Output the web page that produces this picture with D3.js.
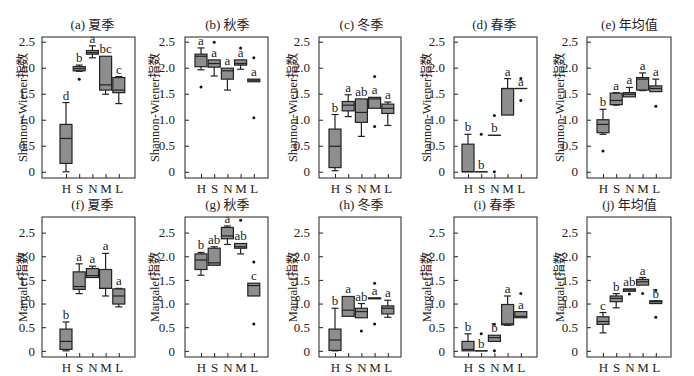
<!DOCTYPE html>
<html>
<head>
<meta charset="UTF-8">
<title></title>
<script src="https://d3js.org/d3.v7.min.js"></script>
<style>
  body{margin:0;background:#fff;}
  svg text{font-family:"Times New Roman","Liberation Serif","DejaVu Serif","Noto Sans CJK SC",serif;fill:#222;}
</style>
</head>
<body>
<div id="chart"></div>
<script>
// categories & tick labels
const categories = ['H','S','N','M','L']
const yTicks = [0, 0.5, 1.0, 1.5, 2.0, 2.5]
const seasons = ['夏季','秋季','冬季','春季','年均值']
const topTags = ['(a)','(b)','(c)','(d)','(e)']
const bottomTags = ['(f)','(g)','(h)','(i)','(j)']

// each box: [whisker low, q1, median, q3, whisker high]
// Shannon-Wiener
const shSummer = [[0,0.16,0.64,0.91,1.33],[1.93,1.94,1.98,2.02,2.05],[2.19,2.26,2.29,2.33,2.42],[1.49,1.57,1.67,2.22,2.22],[1.31,1.52,1.57,1.81,1.83]]
const shSummerOut = [[],[1.78],[],[],[]]
const shSummerSig = ['d','b','a','bc','c']

const shAutumn = [[1.96,2.02,2.22,2.26,2.38],[1.84,2.01,2.08,2.15,2.15],[1.57,1.78,1.94,1.99,1.99],[1.97,2.05,2.08,2.15,2.15],[1.73,1.73,1.76,1.78,1.78]]
const shAutumnOut = [[1.63],[2.49],[],[2.38],[2.19,1.04]]
const shAutumnSig = ['a','a','a','a','a']

const shWinter = [[0.02,0.08,0.49,0.82,1.10],[1.06,1.17,1.28,1.35,1.48],[0.68,0.95,1.14,1.40,1.40],[1.22,1.22,1.40,1.43,1.43],[0.89,1.12,1.22,1.30,1.34]]
const shWinterOut = [[],[],[],[1.83,0.87],[]]
const shWinterSig = ['b','a','ab','a','a']

const shSpring = [[0,0,0,0.53,0.72],[0,0,0,0,0],[0.70,0.70,0.70,0.70,0.70],[1.09,1.09,1.60,1.60,1.79],[1.60,1.60,1.60,1.60,1.60]]
const shSpringOut = [[],[0.72],[1.08,0],[],[1.79,1.37]]
const shSpringSig = ['b','b','b','a','a']

const shYear = [[0.72,0.75,0.91,1.00,1.20],[1.28,1.29,1.37,1.51,1.52],[1.44,1.44,1.49,1.52,1.62],[1.56,1.57,1.78,1.81,1.90],[1.54,1.54,1.60,1.65,1.78]]
const shYearOut = [[0.40],[],[],[],[1.26]]
const shYearSig = ['b','a','a','a','a']

// Margalef
const mgSummer = [[0,0.03,0.20,0.46,0.61],[1.21,1.30,1.36,1.67,1.84],[1.55,1.55,1.59,1.74,1.79],[1.16,1.32,1.32,1.72,2.06],[0.93,0.99,1.16,1.31,1.32]]
const mgSummerOut = [[],[],[],[],[]]
const mgSummerSig = ['b','a','a','a','a']

const mgAutumn = [[1.60,1.72,1.92,2.05,2.08],[1.81,1.81,1.86,2.17,2.20],[2.25,2.37,2.43,2.61,2.64],[2.05,2.17,2.20,2.27,2.27],[1.16,1.16,1.38,1.43,1.43]]
const mgAutumnOut = [[],[],[],[2.76],[1.88,0.57]]
const mgAutumnSig = ['b','ab','a','ab','c']

const mgWinter = [[0,0.01,0.23,0.46,0.90],[0.73,0.73,0.86,1.15,1.15],[0.70,0.70,0.83,0.90,1.00],[1.10,1.10,1.11,1.12,1.12],[0.71,0.78,0.90,0.95,1.07]]
const mgWinterOut = [[],[],[0.42],[1.43,0.57],[]]
const mgWinterSig = ['b','a','ab','a','a']

const mgSpring = [[0,0,0.03,0.20,0.36],[0,0,0,0,0],[0.20,0.20,0.28,0.33,0.33],[0.54,0.55,0.57,0.98,1.16],[0.70,0.70,0.73,0.83,0.83]]
const mgSpringOut = [[],[0.36],[0.56,0],[],[1.21]]
const mgSpringSig = ['b','b','b','a','a']

const mgYear = [[0.38,0.56,0.62,0.72,0.81],[0.91,1.04,1.11,1.16,1.21],[1.26,1.26,1.29,1.31,1.31],[1.39,1.39,1.46,1.51,1.55],[1.00,1.00,1.04,1.06,1.06]]
const mgYearOut = [[],[],[1.20],[1.21],[1.28,0.71]]
const mgYearSig = ['c','b','ab','a','b']

const topRow = [[shSummer,shSummerOut,shSummerSig],[shAutumn,shAutumnOut,shAutumnSig],[shWinter,shWinterOut,shWinterSig],[shSpring,shSpringOut,shSpringSig],[shYear,shYearOut,shYearSig]]
const bottomRow = [[mgSummer,mgSummerOut,mgSummerSig],[mgAutumn,mgAutumnOut,mgAutumnSig],[mgWinter,mgWinterOut,mgWinterSig],[mgSpring,mgSpringOut,mgSpringSig],[mgYear,mgYearOut,mgYearSig]]

// layout of the five columns (frame left/right, first category x, y-label x, tick label gap)
const cols = [
  {x0:42, x1:135, h:66,  yl:23,  tg:3},
  {x0:185,x1:268, h:201, yl:155, tg:6},
  {x0:319,x1:401, h:335, yl:293, tg:5},
  {x0:454,x1:537, h:468, yl:427, tg:5},
  {x0:587,x1:671, h:603, yl:560, tg:5}
]
const rows = [
  {top:37, bottom:178, domain:[-0.12,2.59], ylab:'Shannon-Wiener指数', tags:topTags, data:topRow},
  {top:217,bottom:357, domain:[-0.13,2.83], ylab:'Margalef指数', tags:bottomTags, data:bottomRow}
]

const svg = d3.select('#chart').append('svg').attr('width',694).attr('height',376)
const boxW = 12, capW = 7, fill = '#8e8e8e', ink = '#222'

rows.forEach(r=>{
  cols.forEach((c,ci)=>{
    const g = svg.append('g')
    const x = d3.scalePoint().domain(categories).range([c.h, c.h + 4*13.2])
    const y = d3.scaleLinear().domain(r.domain).range([r.bottom, r.top])
    const [stats, outs, sig] = r.data[ci]
    const cx = i => x(categories[i])

    // frame
    g.append('rect').attr('x',c.x0).attr('y',r.top).attr('width',c.x1-c.x0).attr('height',r.bottom-r.top)
      .attr('fill','none').attr('stroke',ink).attr('stroke-width',1)

    // y axis (ticks inward)
    const ya = g.append('g').attr('transform',`translate(${c.x0},0)`)
      .call(d3.axisLeft(y).tickValues(yTicks).tickSize(-4).tickPadding(c.tg+4)
        .tickFormat(d=> d===0 ? '0' : d3.format('.1f')(d)))
    ya.select('.domain').remove()
    ya.selectAll('line').attr('stroke',ink)
    ya.selectAll('text').attr('font-size','13px').attr('fill',ink)
    ya.attr('font-family',null)

    // x axis (ticks inward)
    const xa = g.append('g').attr('transform',`translate(0,${r.bottom})`)
      .call(d3.axisBottom(x).tickSize(-4).tickPadding(6))
    xa.select('.domain').remove()
    xa.selectAll('line').attr('stroke',ink)
    xa.selectAll('text').attr('font-size','13px').attr('fill',ink)
    xa.attr('font-family',null)

    // title
    const mid = (x.range()[0]+x.range()[1])/2
    g.append('text').attr('x',mid).attr('y',r.top-8).attr('text-anchor','middle').attr('font-size','13px')
      .text(r.tags[ci]+' '+seasons[ci])

    // y label
    g.append('text').attr('transform',`translate(${c.yl},${(r.top+r.bottom)/2}) rotate(-90)`)
      .attr('text-anchor','middle').attr('dy','0.35em').attr('font-size','12.5px').text(r.ylab)

    // boxes
    stats.forEach((d,i)=>{
      const bx = g.append('g')
      bx.append('line').attr('x1',cx(i)).attr('x2',cx(i)).attr('y1',y(d[3])).attr('y2',y(d[4]))
        .attr('stroke',ink).attr('stroke-width',1.2)
      bx.append('line').attr('x1',cx(i)).attr('x2',cx(i)).attr('y1',y(d[1])).attr('y2',y(d[0]))
        .attr('stroke',ink).attr('stroke-width',1.2)
      if (d[4]>d[3]) bx.append('line').attr('x1',cx(i)-capW/2).attr('x2',cx(i)+capW/2)
        .attr('y1',y(d[4])).attr('y2',y(d[4])).attr('stroke',ink).attr('stroke-width',1.2)
      if (d[0]<d[1]) bx.append('line').attr('x1',cx(i)-capW/2).attr('x2',cx(i)+capW/2)
        .attr('y1',y(d[0])).attr('y2',y(d[0])).attr('stroke',ink).attr('stroke-width',1.2)
      bx.append('rect').attr('x',cx(i)-boxW/2).attr('width',boxW)
        .attr('y',y(d[3])).attr('height',Math.max(y(d[1])-y(d[3]),0.01))
        .attr('fill',fill).attr('stroke',ink).attr('stroke-width',1.2)
      bx.append('line').attr('x1',cx(i)-boxW/2).attr('x2',cx(i)+boxW/2)
        .attr('y1',y(d[2])).attr('y2',y(d[2])).attr('stroke',ink).attr('stroke-width',1.2)
    })

    // outliers
    outs.forEach((o,i)=>{
      o.forEach(v=>{
        g.append('circle').attr('cx',cx(i)).attr('cy',y(v)).attr('r',1.5).attr('fill','#111')
      })
    })

    // significance letters
    g.selectAll('text.sig').data(sig).enter().append('text').attr('class','sig')
      .attr('x',(d,i)=>cx(i)).attr('y',(d,i)=>y(stats[i][4])-3)
      .attr('text-anchor','middle').attr('font-size','13px').text(d=>d)
  })
})
</script>
</body>
</html>
